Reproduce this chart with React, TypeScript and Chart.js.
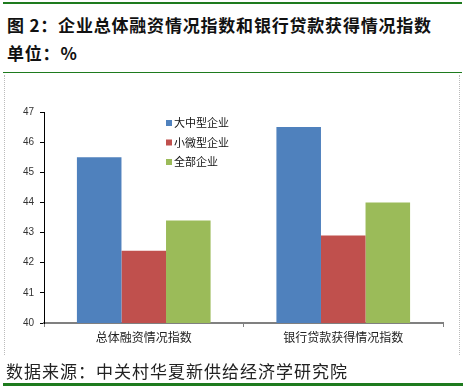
import React, { useEffect, useRef } from "react";
import { Chart, registerables } from "chart.js";

Chart.register(...registerables);

const categories = ["总体融资情况指数", "银行贷款获得情况指数"];
const seriesNames = ["大中型企业", "小微型企业", "全部企业"];
const largeMedium = [45.5, 46.5];
const smallMicro = [42.4, 42.9];
const allFirms = [43.4, 44.0];
const seriesColors = ["#4F81BD", "#C0504D", "#9BBB59"];
const yMin = 40;
const yMax = 47;

const CJK = '"Noto Sans CJK SC", "Noto Sans", sans-serif';

const legendPlugin = {
  id: "insideLegend",
  afterDraw(chart: any) {
    const ctx = chart.ctx;
    ctx.save();
    ctx.font = `11px ${CJK}`;
    ctx.textBaseline = "middle";
    ctx.textAlign = "left";
    chart.data.datasets.forEach((ds: any, i: number) => {
      const x = 166;
      const y = 123 + i * 19.5;
      ctx.fillStyle = ds.backgroundColor;
      ctx.fillRect(x, y - 3, 6, 6);
      ctx.fillStyle = "#111";
      ctx.fillText(ds.label, x + 8, y);
    });
    ctx.restore();
  },
};

export default function App() {
  const ref = useRef<HTMLCanvasElement | null>(null);
  useEffect(() => {
    if (!ref.current) return;
    const chart = new Chart(ref.current, {
      type: "bar",
      data: {
        labels: categories,
        datasets: [
          { label: seriesNames[0], data: largeMedium, backgroundColor: seriesColors[0] },
          { label: seriesNames[1], data: smallMicro, backgroundColor: seriesColors[1] },
          { label: seriesNames[2], data: allFirms, backgroundColor: seriesColors[2] },
        ],
      },
      options: {
        responsive: false,
        animation: false,
        layout: { padding: { left: 0, top: 112, right: 22, bottom: 0 } },
        datasets: { bar: { categoryPercentage: 0.67, barPercentage: 1.0 } },
        plugins: { legend: { display: false }, tooltip: { enabled: false } },
        scales: {
          x: {
            offset: true,
            grid: {
              offset: true,
              drawOnChartArea: false,
              drawTicks: true,
              tickLength: 4,
              color: "#808080",
            },
            border: { display: true, color: "#808080", width: 2 },
            ticks: {
              color: "#222",
              font: { family: CJK, size: 12 },
              padding: 3,
            },
            afterFit(scale: any) {
              scale.height = 389 - 323;
            },
          },
          y: {
            min: yMin,
            max: yMax,
            grid: {
              drawOnChartArea: false,
              drawTicks: true,
              tickLength: 4,
              color: "#000",
            },
            border: { display: true, color: "#000", width: 1 },
            ticks: {
              stepSize: 1,
              color: "#333",
              font: { family: '"Liberation Sans", Arial, sans-serif', size: 10 },
              padding: 6,
            },
            afterFit(scale: any) {
              scale.width = 44;
            },
          },
        },
      },
      plugins: [legendPlugin],
    });
    return () => chart.destroy();
  }, []);

  return (
    <div
      style={{
        position: "fixed",
        left: 0,
        top: 0,
        width: 465,
        height: 389,
        background: "#fff",
        overflow: "hidden",
      }}
    >
      <div style={{ position: "absolute", left: 3, top: 2, width: 459, height: 2, background: "#1E7B1E" }} />
      <div
        style={{
          position: "absolute",
          left: 7,
          top: 11,
          fontFamily: CJK,
          fontWeight: "bold",
          fontSize: 17,
          lineHeight: "28px",
          color: "#111",
          whiteSpace: "nowrap",
          letterSpacing: 0.8,
        }}
      >
        图 2：企业总体融资情况指数和银行贷款获得情况指数
        <br />
        单位：%
      </div>
      <div style={{ position: "absolute", left: 3, top: 72, width: 459, height: 1, background: "#1E7B1E" }} />
      <div
        style={{
          position: "absolute",
          left: 4,
          top: 75,
          width: 456,
          height: 280,
          borderLeft: "1px dotted #bbb",
          borderRight: "1px dotted #bbb",
          boxSizing: "border-box",
        }}
      />
      <canvas ref={ref} width={465} height={389} style={{ position: "absolute", left: 0, top: 0 }} />
      <div
        style={{
          position: "absolute",
          left: 6,
          top: 360,
          fontFamily: CJK,
          fontSize: 17,
          lineHeight: "22px",
          color: "#222",
          whiteSpace: "nowrap",
          letterSpacing: 1,
        }}
      >
        数据来源：中关村华夏新供给经济学研究院
      </div>
      <div style={{ position: "absolute", left: 3, top: 383, width: 460, height: 3, background: "#1E7B1E" }} />
    </div>
  );
}
